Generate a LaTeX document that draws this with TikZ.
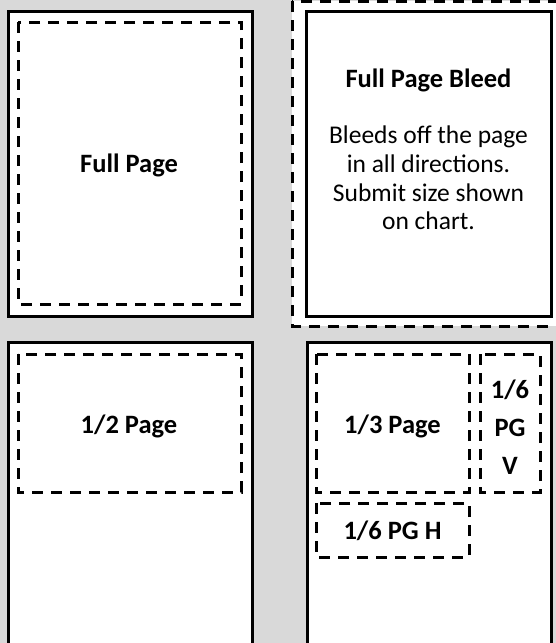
\documentclass[tikz,border=0pt]{standalone}
\usepackage{fontspec}
\setmainfont{Carlito}
\definecolor{bggray}{HTML}{D9D9D9}
\tikzset{
  pagebox/.style={draw=black, fill=white, line width=3pt},
  adbox/.style={draw=black, line width=3pt, dash pattern=on 11pt off 8pt},
  bleedbox/.style={draw=black, fill=white, line width=3pt, dash pattern=on 11pt off 8pt},
  lbl/.style={font=\fontsize{26.5}{30}\selectfont\bfseries, inner sep=0pt, align=center},
  body/.style={font=\fontsize{25.5}{28.7}\selectfont, inner sep=0pt, align=center}
}
\begin{document}
\begin{tikzpicture}[x=1pt,y=-1pt]
\useasboundingbox (0,0) rectangle (556,643);
\clip (0,0) rectangle (556,643);
\fill[bggray] (0,0) rectangle (556,643);
% Full page
\draw[pagebox] (8,11) rectangle (252,316);
\draw[adbox] (18,22) rectangle (241,304);
\node[lbl] (full) at (129,165) {Full Page};
% Full page bleed
\draw[bleedbox] (292,1) rectangle (566,326);
\draw[pagebox] (306,11) rectangle (551,316);
\node[lbl] (bleedtitle) at (428.5,80) {Full Page Bleed};
\node[body] (bleedtext) at (428.5,178) {Bleeds off the page\\in all directions.\\Submit size shown\\on chart.};
% Half page
\draw[pagebox] (8,342) rectangle (252,660);
\draw[adbox] (18,354) rectangle (241,492);
\node[lbl] (half) at (129,426) {1/2 Page};
% Third / sixth
\draw[pagebox] (307,342) rectangle (551,660);
\draw[adbox] (316,354) rectangle (469,492);
\node[lbl] (third) at (392.5,426) {1/3 Page};
\draw[adbox] (480,354) rectangle (540,492);
\node[lbl] (sixthv) at (510,427) {1/6\\[8pt]PG\\[8pt]V};
\draw[adbox] (316,503) rectangle (469,557);
\node[lbl] (sixthh) at (392.5,531) {1/6 PG H};
\end{tikzpicture}
\end{document}
